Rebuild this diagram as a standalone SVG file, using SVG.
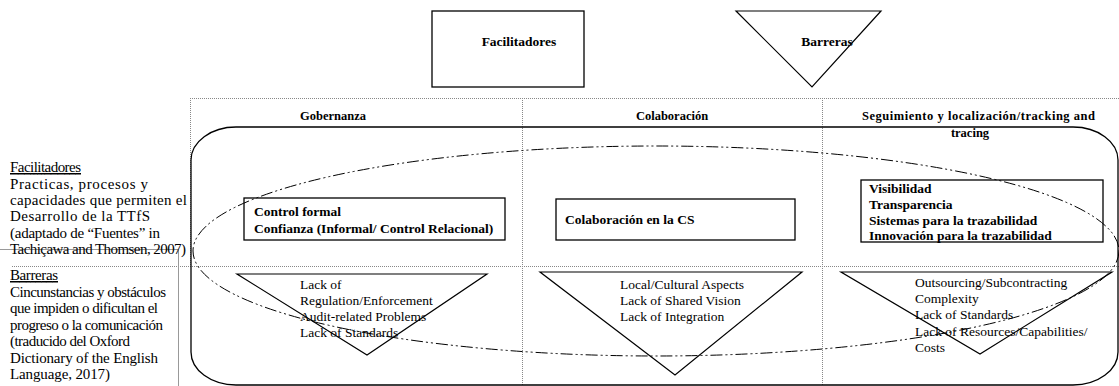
<svg xmlns="http://www.w3.org/2000/svg" width="1119" height="386" viewBox="0 0 1119 386">
<style>
text{font-family:"Liberation Serif","Times New Roman",serif;fill:#000}
.b{font-weight:bold;font-size:13.5px}
.h{font-weight:bold;font-size:12.5px}
.r{font-size:13.5px}
.l{font-size:15px}
.box{fill:#fff;stroke:#000;stroke-width:1.3}
.tri{fill:none;stroke:#000;stroke-width:1.2}
.grid{fill:none;stroke:#888;stroke-width:1;stroke-dasharray:1 1}
.ell{fill:none;stroke:#000;stroke-width:1;stroke-dasharray:12 3 2 3 2 3}
</style>
<rect width="1119" height="386" fill="#fff"/>
<g id="grid">
<path class="grid" d="M190 98.5H1119M12 266.5H1119M190.5 98V266M522.5 98V386M822.5 98V386"/>
<path d="M0 249.5H178.5V386" fill="none" stroke="#999" stroke-width="1"/>
</g>
<g id="legend-top-facilitadores">
<rect class="box" x="432" y="11" width="152" height="76"/>
<text class="b" x="519" y="46" text-anchor="middle">Facilitadores</text>
</g>
<g id="legend-top-barreras">
<polygon class="tri" points="736,11 881,11 812,87"/>
<text class="b" x="827" y="46" text-anchor="middle">Barreras</text>
</g>
<g id="headers">
<text class="h" x="333" y="120" text-anchor="middle">Gobernanza</text>
<text class="h" x="672" y="120" text-anchor="middle">Colaboración</text>
<text class="h" x="862" y="120" textLength="233">Seguimiento y localización/tracking and</text>
<text class="h" x="970" y="137" text-anchor="middle">tracing</text>
</g>
<g id="legend-left">
<text class="l" x="10" y="172" text-decoration="underline" textLength="71">Facilitadores</text>
<text class="l" x="10" y="189" textLength="138">Practicas, procesos y</text>
<text class="l" x="10" y="205" textLength="177">capacidades que permiten el</text>
<text class="l" x="10" y="221" textLength="140">Desarrollo de la TTfS</text>
<text class="l" x="10" y="238" textLength="150">(adaptado de “Fuentes” in</text>
<text class="l" x="10" y="254" textLength="176">Tachiçawa and Thomsen, 2007)</text>
<text class="l" x="10" y="280" text-decoration="underline" textLength="48">Barreras</text>
<text class="l" x="10" y="297" textLength="156">Cincunstancias y obstáculos</text>
<text class="l" x="10" y="313" textLength="148">que impiden o dificultan el</text>
<text class="l" x="10" y="330" textLength="153">progreso o la comunicación</text>
<text class="l" x="10" y="346" textLength="120">(traducido del Oxford</text>
<text class="l" x="10" y="363" textLength="148">Dictionary of the English</text>
<text class="l" x="10" y="379" textLength="100">Language, 2017)</text>
</g>
<g id="frame">
<rect x="191" y="127" width="927" height="258" rx="45" ry="33" fill="none" stroke="#000" stroke-width="1.3"/>
</g>
<g id="fac-gobernanza">
<rect class="box" x="244" y="198" width="261" height="42"/>
<text class="b" x="254" y="216">Control formal</text>
<text class="b" x="254" y="233">Confianza (Informal/ Control Relacional)</text>
</g>
<g id="fac-colaboracion">
<rect class="box" x="556" y="199" width="239" height="41"/>
<text class="b" x="565" y="224">Colaboración en la CS</text>
</g>
<g id="fac-seguimiento">
<rect class="box" x="861" y="180" width="242" height="62"/>
<text class="b" x="869" y="193">Visibilidad</text>
<text class="b" x="869" y="209">Transparencia</text>
<text class="b" x="869" y="225">Sistemas para la trazabilidad</text>
<text class="b" x="869" y="240">Innovación para la trazabilidad</text>
</g>
<g id="bar-gobernanza">
<polygon class="tri" points="237,274 487,274 367,355"/>
<text class="r" x="300" y="289">Lack of</text>
<text class="r" x="300" y="305">Regulation/Enforcement</text>
<text class="r" x="300" y="321">Audit-related Problems</text>
<text class="r" x="300" y="337">Lack of Standards</text>
</g>
<g id="bar-colaboracion">
<polygon class="tri" points="540,272 802,272 675,375"/>
<text class="r" x="620" y="289">Local/Cultural Aspects</text>
<text class="r" x="620" y="305">Lack of Shared Vision</text>
<text class="r" x="620" y="321">Lack of Integration</text>
</g>
<g id="bar-seguimiento">
<polygon class="tri" points="841,272 1112,272 980,354"/>
<text class="r" x="915" y="287">Outsourcing/Subcontracting</text>
<text class="r" x="915" y="303">Complexity</text>
<text class="r" x="915" y="319">Lack of Standards</text>
<text class="r" x="915" y="336">Lack of Resources/Capabilities/</text>
<text class="r" x="915" y="352">Costs</text>
</g>
<g id="enablers-ellipse">
<ellipse class="ell" cx="656" cy="251" rx="463" ry="105"/>
</g>
<g id="connectors"/>
</svg>
